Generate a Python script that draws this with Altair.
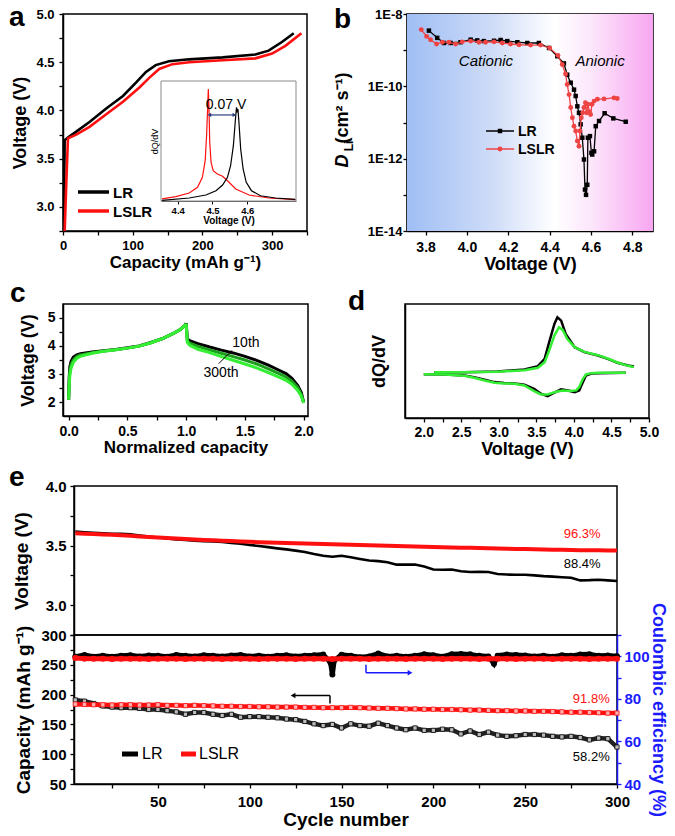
import altair as alt
import pandas as pd

FONT = "Liberation Sans"
RED = "#ff1010"
BRED = "#ee4444"
BLUE = "#1a1aff"
NAVY = "#2a3d7c"
GREEN = "#33ee33"
MIDGREEN = "#1b9e1b"

# ---------------- panel a : charge curves ----------------
A_LR_CAP = [1.0, 2.0, 2.4, 7, 19, 38, 62, 86, 105, 119, 133, 152, 181, 229, 276, 295, 314, 331]
A_LR_V = [2.75, 3.40, 3.69, 3.72, 3.78, 3.88, 4.02, 4.15, 4.29, 4.40, 4.47, 4.51, 4.53, 4.55, 4.58, 4.62, 4.71, 4.80]
A_LSLR_CAP = [2.4, 5.0, 7.1, 19, 38, 62, 86, 110, 124, 138, 157, 181, 229, 276, 300, 319, 342]
A_LSLR_V = [2.75, 3.30, 3.71, 3.75, 3.83, 3.96, 4.09, 4.24, 4.34, 4.43, 4.48, 4.50, 4.52, 4.54, 4.59, 4.67, 4.80]

# inset dQ/dV (arbitrary units 0..1)
IN_RED_V = [4.355, 4.395, 4.433, 4.457, 4.471, 4.479, 4.483, 4.486, 4.488, 4.490, 4.492, 4.496, 4.502, 4.514, 4.529, 4.543, 4.567, 4.605, 4.662, 4.738]
IN_RED_Y = [0.017, 0.036, 0.067, 0.114, 0.197, 0.336, 0.544, 0.767, 0.933, 0.767, 0.489, 0.322, 0.253, 0.225, 0.206, 0.169, 0.100, 0.050, 0.025, 0.011]
IN_BLK_V = [4.355, 4.433, 4.481, 4.510, 4.529, 4.543, 4.552, 4.560, 4.566, 4.569, 4.571, 4.573, 4.576, 4.581, 4.588, 4.597, 4.612, 4.638, 4.681, 4.738]
IN_BLK_Y = [0.006, 0.025, 0.050, 0.086, 0.133, 0.197, 0.294, 0.461, 0.683, 0.781, 0.739, 0.767, 0.656, 0.433, 0.267, 0.156, 0.086, 0.044, 0.025, 0.014]
IN_ARROW_V = [4.491, 4.563]
IN_ARROW_Y = 0.717
IN_TEXT = ("0.07 V", 4.539, 0.767)

# ---------------- panel b : diffusion coefficient ----------------
B_LR_V = [3.816, 3.856, 3.889, 3.921, 3.969, 4.018, 4.050, 4.082, 4.131, 4.163, 4.195, 4.244, 4.292, 4.348,
          4.397, 4.437, 4.469, 4.485, 4.502, 4.518, 4.526, 4.534, 4.542, 4.550, 4.558, 4.566, 4.571, 4.576,
          4.582, 4.585, 4.595, 4.602, 4.606, 4.615, 4.623, 4.639, 4.666, 4.708, 4.768]
B_LR_D = [3.47e-9, 2.19e-9, 1.58e-9, 1.58e-9, 1.66e-9, 1.95e-9, 1.86e-9, 1.78e-9, 1.82e-9, 1.91e-9, 1.78e-9,
          1.66e-9, 1.58e-9, 1.58e-9, 1.15e-9, 6.8e-10, 4.3e-10, 2.1e-10, 1.26e-10, 8.1e-11, 5.4e-11, 2.8e-11,
          1.86e-11, 8.9e-12, 3.8e-12, 9.5e-13, 1.4e-13, 1.0e-13, 1.9e-13, 3.8e-12, 4.2e-12, 1.45e-12, 1.3e-12,
          1.6e-12, 7.9e-12, 1.1e-11, 1.8e-11, 1.3e-11, 1.05e-11]
B_LSLR_V = [3.779, 3.805, 3.824, 3.853, 3.881, 3.913, 3.945, 3.977, 4.018, 4.058, 4.090, 4.131, 4.171, 4.211,
            4.252, 4.308, 4.356, 4.400, 4.440, 4.461, 4.477, 4.485, 4.494, 4.502, 4.510, 4.518, 4.526, 4.534,
            4.542, 4.547, 4.553, 4.560, 4.566, 4.573, 4.579, 4.585, 4.592, 4.598, 4.605, 4.615, 4.631, 4.663,
            4.711, 4.727]
B_LSLR_D = [3.7e-9, 2.4e-9, 1.95e-9, 1.48e-9, 1.66e-9, 1.66e-9, 1.48e-9, 1.7e-9, 1.78e-9, 1.66e-9, 1.66e-9,
            1.7e-9, 1.58e-9, 1.48e-9, 1.41e-9, 1.38e-9, 1.38e-9, 1.15e-9, 7.2e-10, 4.0e-10, 2.2e-10, 1.12e-10,
            5.9e-11, 2.6e-11, 1.35e-11, 7.9e-12, 5.8e-12, 3.1e-12, 2.2e-12, 5.8e-12, 1.35e-11, 1.86e-11, 2.6e-11,
            3.5e-11, 1.86e-11, 3.2e-11, 2.0e-11, 1.66e-11, 3.2e-11, 3.9e-11, 4.4e-11, 4.5e-11, 4.8e-11, 4.6e-11]
B_LABEL_T = ["Cationic", "Anionic"]
B_LABEL_V = [4.092, 4.644]
B_LABEL_D = [5.0e-10, 5.0e-10]

# ---------------- panel c : voltage profiles ----------------
C_CH_X = [0.0, 0.005, 0.01, 0.02, 0.04, 0.07, 0.1, 0.2, 0.3, 0.4, 0.5, 0.6, 0.7, 0.8, 0.9, 0.95, 0.99, 1.0]
C_CH_V10 = [2.1, 2.9, 3.25, 3.45, 3.6, 3.68, 3.72, 3.78, 3.83, 3.87, 3.93, 4.0, 4.12, 4.26, 4.46, 4.58, 4.72, 4.80]
C_CH_V150 = [2.1, 2.75, 3.1, 3.33, 3.5, 3.62, 3.68, 3.76, 3.82, 3.86, 3.92, 3.99, 4.11, 4.26, 4.46, 4.58, 4.72, 4.79]
C_CH_V300 = [2.1, 2.6, 2.95, 3.2, 3.42, 3.56, 3.63, 3.74, 3.81, 3.86, 3.92, 3.99, 4.11, 4.26, 4.46, 4.58, 4.72, 4.78]
C_DC_X = [1.0, 1.01, 1.03, 1.1, 1.2, 1.3, 1.4, 1.5, 1.6, 1.7, 1.8, 1.85, 1.9, 1.95, 1.98, 2.0]
C_DC_V10 = [4.80, 4.25, 4.18, 4.08, 3.96, 3.85, 3.75, 3.63, 3.49, 3.32, 3.12, 3.02, 2.85, 2.60, 2.35, 2.0]
C_DC_V150 = [4.79, 4.18, 4.10, 3.98, 3.86, 3.74, 3.62, 3.50, 3.36, 3.19, 3.00, 2.90, 2.75, 2.52, 2.28, 1.99]
C_DC_V300 = [4.78, 4.12, 4.02, 3.88, 3.76, 3.62, 3.49, 3.36, 3.22, 3.05, 2.88, 2.78, 2.64, 2.42, 2.22, 1.98]
C_NOTE_T = ["10th", "300th"]
C_NOTE_X = [1.509, 1.297]
C_NOTE_V = [4.11, 3.04]
C_POINTER_X = [1.277, 1.390]
C_POINTER_V = [3.37, 3.84]

# ---------------- panel d : dQ/dV ----------------
D_CH_V10 = [2.14, 2.54, 2.98, 3.34, 3.52, 3.61, 3.67, 3.74, 3.78, 3.83, 3.89, 4.01, 4.14, 4.32, 4.45, 4.58, 4.72, 4.80]
D_CH_Y10 = [5, 5, 7, 13, 23, 45, 95, 150, 170, 160, 120, 80, 65, 55, 45, 33, 25, 22]
D_CH_V300 = [2.14, 2.54, 2.98, 3.34, 3.52, 3.61, 3.67, 3.74, 3.80, 3.85, 3.91, 4.01, 4.14, 4.32, 4.45, 4.58, 4.72, 4.80]
D_CH_Y300 = [5, 5, 6, 11, 18, 35, 70, 115, 140, 132, 105, 80, 66, 56, 46, 34, 24, 20]
D_DC_V10 = [4.69, 4.32, 4.23, 4.16, 4.12, 4.07, 4.01, 3.92, 3.83, 3.74, 3.65, 3.56, 3.47, 3.34, 3.21, 3.07, 2.94, 2.81, 2.67, 2.54, 2.28, 2.0]
D_DC_Y10 = [3, 2, 1, -5, -25, -50, -55, -50, -47, -57, -67, -60, -45, -33, -29, -28, -25, -18, -10, -5, -2, -1]
D_DC_V300 = [4.69, 4.32, 4.23, 4.16, 4.12, 4.07, 4.03, 3.95, 3.85, 3.75, 3.65, 3.56, 3.47, 3.34, 3.21, 3.07, 2.94, 2.81, 2.67, 2.54, 2.28, 2.0]
D_DC_Y300 = [3, 3, 2, -2, -15, -40, -50, -52, -50, -55, -62, -62, -52, -35, -30, -29, -27, -20, -12, -6, -2, -1]

# ---------------- panel e : cycling ----------------
E_CYC = [5, 10, 15, 20, 25, 30, 35, 40, 45, 50, 55, 60, 65, 70, 75, 80, 85, 90, 95, 100,
         105, 110, 115, 120, 125, 130, 135, 140, 145, 150, 155, 160, 165, 170, 175, 180, 185, 190, 195, 200,
         205, 210, 215, 220, 225, 230, 235, 240, 245, 250, 255, 260, 265, 270, 275, 280, 285, 290, 295, 300]
E_LR_V = [3.617, 3.612, 3.607, 3.603, 3.600, 3.598, 3.595, 3.585, 3.575, 3.568,
          3.560, 3.552, 3.548, 3.542, 3.537, 3.534, 3.530, 3.522, 3.515, 3.505,
          3.497, 3.487, 3.477, 3.468, 3.458, 3.447, 3.430, 3.415, 3.407, 3.415,
          3.402, 3.388, 3.375, 3.370, 3.360, 3.340, 3.340, 3.342, 3.325, 3.300,
          3.298, 3.300, 3.285, 3.278, 3.280, 3.278, 3.262, 3.257, 3.255, 3.255,
          3.250, 3.244, 3.240, 3.235, 3.230, 3.208, 3.210, 3.214, 3.208, 3.203]
E_LSLR_V = [3.603, 3.600, 3.597, 3.594, 3.590, 3.586, 3.582, 3.577, 3.572, 3.568,
            3.564, 3.560, 3.556, 3.552, 3.548, 3.545, 3.541, 3.538, 3.535, 3.532,
            3.529, 3.526, 3.524, 3.521, 3.519, 3.517, 3.515, 3.513, 3.511, 3.509,
            3.507, 3.505, 3.503, 3.501, 3.499, 3.497, 3.495, 3.493, 3.491, 3.489,
            3.487, 3.485, 3.483, 3.481, 3.479, 3.478, 3.476, 3.474, 3.472, 3.471,
            3.469, 3.468, 3.466, 3.465, 3.463, 3.462, 3.461, 3.460, 3.459, 3.458]
E_LR_CAP = [191, 189, 185, 181, 179, 178, 178, 177, 175, 175,
            173, 171, 167, 170, 170, 167, 165, 167, 162, 163,
            163, 162, 161, 159, 158, 155, 151, 148, 150, 144,
            151, 148, 147, 152, 148, 144, 141, 144, 140, 140,
            142, 141, 134, 139, 133, 137, 132, 130, 131, 133,
            133, 132, 130, 129, 130, 128, 124, 127, 126, 112]
E_LSLR_CAP = [184, 183.5, 183, 183, 182.5, 183, 183, 182.5, 182.5, 183,
              182, 182, 181.5, 182, 181.5, 181, 180.5, 180.5, 180, 180,
              179.5, 179.5, 179, 179, 179, 178.5, 178.5, 178, 178, 178,
              178.5, 178, 177.5, 177, 177, 176.5, 176, 176, 175.5, 175.5,
              175, 175, 174.5, 174, 174, 173.5, 173, 173, 172.5, 172.5,
              172, 172, 171.5, 171, 170.5, 170.5, 170, 169.5, 169, 169]
E_CE_LR_CYC = [5, 10, 15, 20, 25, 30, 35, 40, 45, 50, 55, 60, 65, 70, 75, 80, 85, 90, 95, 100,
               105, 110, 115, 120, 125, 130, 135, 140, 144, 145, 146, 150, 155, 160, 165, 170, 175, 180,
               185, 190, 195, 200, 205, 210, 215, 220, 225, 230, 233, 235, 240, 245, 250, 255, 260, 265,
               270, 275, 280, 285, 290, 295, 300]
E_CE_LR = [99.8, 100.6, 99.8, 100.3, 99.8, 100.2, 100.5, 99.9, 100.4, 100.2, 99.8, 100.6, 100.2, 99.9,
           100.5, 100.3, 99.9, 100.4, 100.6, 99.9, 100.3, 99.8, 100.2, 100.5, 99.9, 100.3, 100.5, 100.8,
           97.0, 91.5, 98.0,
           100.7, 100.3, 99.6, 99.9, 101.3, 99.9, 100.3, 99.8, 100.2, 100.9, 100.5, 99.8, 101.0, 101.1,
           100.9, 100.2, 99.9, 96.5,
           100.3, 100.8, 100.6, 100.4, 99.9, 100.3, 99.8, 100.5, 100.2, 100.8, 100.9, 100.2, 100.4, 100.0]
E_CE_LSLR = [99.2, 98.9, 98.8, 98.9, 98.7, 98.8, 98.9, 98.8, 98.7, 98.9,
             98.8, 98.9, 98.7, 98.8, 98.9, 98.8, 98.7, 98.8, 98.9, 98.8,
             98.7, 98.8, 98.9, 98.8, 98.7, 98.8, 98.9, 98.8, 98.7, 98.8,
             98.9, 98.8, 98.7, 98.8, 98.9, 98.8, 98.7, 98.8, 98.9, 98.8,
             98.7, 98.8, 98.9, 98.8, 98.7, 98.8, 98.9, 98.8, 98.7, 98.8,
             98.9, 98.8, 98.7, 98.8, 98.9, 98.8, 98.7, 98.8, 98.9, 98.8]
E_TOP_NOTE_T = ["96.3%", "88.4%"]
E_TOP_NOTE_X = [281, 281]
E_TOP_NOTE_V = [3.60, 3.342]
E_BOT_NOTE_T = ["91.8%", "58.2%"]
E_BOT_NOTE_X = [286, 286]
E_BOT_NOTE_C = [193, 95]
E_BOT_NOTE_COL = [RED, "black"]
# arrows (cycle, capacity)
E_BLACK_ARROW = {"x": [123.6, 143.7], "x2": [143.7, 143.7], "y": [198.3, 198.3], "y2": [198.3, 185.0]}
E_BLUE_ARROW = {"x": [163.3, 163.3], "x2": [163.3, 187.3], "y": [250.0, 236.7], "y2": [236.7, 236.7]}

ONE = pd.DataFrame({"k": [0]})


def axis(**kw):
    d = dict(labelFont=FONT, titleFont=FONT, labelFontWeight="bold", titleFontWeight="bold",
             labelColor="black", titleColor="black", domainColor="black", tickColor="black",
             grid=False, labelFlush=False, labelOverlap=False, domainWidth=1.5, tickWidth=1.3,
             tickSize=4)
    d.update(kw)
    return alt.Axis(**d)


def only_major(step):
    return f"abs(datum.value/{step} - round(datum.value/{step})) < 1e-6 ? datum.label : ''"


def letter(ch, x, y):
    return alt.Chart(ONE).mark_text(text=ch, font=FONT, fontSize=28, fontWeight="bold", align="left",
                                    baseline="alphabetic", color="black").encode(x=alt.value(x), y=alt.value(y))


def ptext(t, x, y, size=14, weight="bold", color="black", align="left", baseline="middle", angle=None, style="normal"):
    kw = dict(text=t, font=FONT, fontSize=size, fontWeight=weight, color=color, align=align,
              baseline=baseline, fontStyle=style)
    if angle is not None:
        kw["angle"] = angle
    return alt.Chart(ONE).mark_text(**kw).encode(x=alt.value(x), y=alt.value(y))


def prule(x1, x2, y1, y2, color, width):
    return alt.Chart(ONE).mark_rule(color=color, strokeWidth=width).encode(
        x=alt.value(x1), x2=alt.value(x2), y=alt.value(y1), y2=alt.value(y2))


def df_xy(xs, ys):
    return pd.DataFrame({"x": xs, "y": ys, "i": list(range(len(xs)))})


# ======================= panel a =======================
A_W, A_H = 244, 217
ax_a_x = axis(values=list(range(0, 351, 50)), labelExpr=only_major(100), title="Capacity (mAh g⁻¹)",
              labelFontSize=13, titleFontSize=17, labelPadding=4, titlePadding=2, minExtent=21, maxExtent=21)
ax_a_y = axis(values=[2.75, 3.0, 3.25, 3.5, 3.75, 4.0, 4.25, 4.5, 4.75, 5.0], labelExpr=only_major(0.5),
              format=".1f", title="Voltage (V)", labelFontSize=13, titleFontSize=18, labelPadding=5,
              titlePadding=6, minExtent=28, maxExtent=28)
a_x = alt.X("x:Q", scale=alt.Scale(domain=[0, 350], nice=False), axis=ax_a_x)
a_y = alt.Y("y:Q", scale=alt.Scale(domain=[2.75, 5.0], nice=False), axis=ax_a_y)

a_lr = alt.Chart(df_xy(A_LR_CAP, A_LR_V)).mark_line(color="black", strokeWidth=2.6, clip=True).encode(x=a_x, y=a_y, order="i:Q")
a_lslr = alt.Chart(df_xy(A_LSLR_CAP, A_LSLR_V)).mark_line(color=RED, strokeWidth=2.6, clip=True).encode(x=a_x, y=a_y, order="i:Q")
a_main = alt.layer(
    a_lr, a_lslr,
    prule(15, 46, 178, 178, "black", 3.5), ptext("LR", 50, 179, size=15),
    prule(15, 46, 197, 197, RED, 3.5), ptext("LSLR", 50, 198, size=15),
    letter("a", -54, 12),
)

in_x = alt.X("x:Q", scale=alt.Scale(domain=[4.352, 4.74], range=[98, 233], nice=False),
             axis=axis(orient="bottom", offset=-30, values=[4.4, 4.5, 4.6], format=".1f", title="Voltage (V)",
                       labelFontSize=9.5, titleFontSize=10, labelPadding=1, titlePadding=1, tickSize=3,
                       tickWidth=1, domainWidth=1, domainColor="#555"))
in_y = alt.Y("y:Q", scale=alt.Scale(domain=[0, 1], range=[187, 67], nice=False),
             axis=axis(orient="left", offset=-98, labels=False, ticks=False, domain=False, title="dQ/dV",
                       titleFontSize=9, titlePadding=2, titleFontWeight="normal"))
in_frame = alt.Chart(ONE).mark_rect(fill="white", stroke="#8a8a8a", strokeWidth=1).encode(
    x=alt.value(98), x2=alt.value(233), y=alt.value(67), y2=alt.value(187))
in_red = alt.Chart(df_xy(IN_RED_V, IN_RED_Y)).mark_line(color=RED, strokeWidth=1.2).encode(x=in_x, y=in_y, order="i:Q")
in_blk = alt.Chart(df_xy(IN_BLK_V, IN_BLK_Y)).mark_line(color="black", strokeWidth=1.2).encode(x=in_x, y=in_y, order="i:Q")
arrow_df = pd.DataFrame({"x": [IN_ARROW_V[0]], "x2": [IN_ARROW_V[1]], "y": [IN_ARROW_Y]})
in_arrow = alt.Chart(arrow_df).mark_rule(color=NAVY, strokeWidth=1.2).encode(x=in_x, x2="x2:Q", y=in_y)
heads_df = pd.DataFrame({"x": IN_ARROW_V, "y": [IN_ARROW_Y] * 2, "s": ["triangle-left", "triangle-right"]})
in_heads = alt.Chart(heads_df).mark_point(filled=True, color=NAVY, size=18, opacity=1).encode(
    x=in_x, y=in_y, shape=alt.Shape("s:N", scale=None))
in_text = alt.Chart(pd.DataFrame({"x": [IN_TEXT[1]], "y": [IN_TEXT[2]], "t": [IN_TEXT[0]]})).mark_text(
    font=FONT, fontSize=14, color="black", baseline="alphabetic", align="center").encode(x=in_x, y=in_y, text="t:N")
a_inset = alt.layer(in_frame, in_red, in_blk, in_arrow, in_heads, in_text)

panel_a = alt.layer(a_main, a_inset).resolve_scale(x="independent", y="independent").properties(width=A_W, height=A_H)

# ======================= panel b =======================
B_W, B_H = 246, 217
ax_b_x = axis(values=[3.8, 4.0, 4.2, 4.4, 4.6, 4.8], format=".1f", title="Voltage (V)", labelFontSize=14,
              titleFontSize=18, labelPadding=5, titlePadding=2, minExtent=22, maxExtent=22)
ax_b_y = axis(values=[1e-14, 1e-13, 1e-12, 1e-11, 1e-10, 1e-9, 1e-8],
              labelExpr="(round(log(datum.value)/LN10) % 2 == 0) ? '1E' + round(log(datum.value)/LN10) : ''",
              title=None, labelFontSize=13, labelPadding=1)
b_x = alt.X("x:Q", scale=alt.Scale(domain=[3.71, 4.9], nice=False), axis=ax_b_x)
b_y = alt.Y("y:Q", scale=alt.Scale(type="log", domain=[1e-14, 1e-8], nice=False), axis=ax_b_y)

grad = {"gradient": "linear", "x1": 0, "y1": 0, "x2": 1, "y2": 0,
        "stops": [{"offset": 0, "color": "#9fbef4"}, {"offset": 0.35, "color": "#cfdcf8"},
                  {"offset": 0.6, "color": "#ffffff"}, {"offset": 0.75, "color": "#fce6fb"},
                  {"offset": 1, "color": "#f8a6f1"}]}
b_bg = alt.Chart(ONE).mark_rect(fill=grad).encode(x=alt.value(0), x2=alt.value(B_W), y=alt.value(0), y2=alt.value(B_H))
b_lr_df = df_xy(B_LR_V, B_LR_D)
b_lslr_df = df_xy(B_LSLR_V, B_LSLR_D)
b_lr_line = alt.Chart(b_lr_df).mark_line(color="black", strokeWidth=1.3).encode(x=b_x, y=b_y, order="i:Q")
b_lr_pts = alt.Chart(b_lr_df).mark_point(shape="square", filled=True, color="black", size=20, opacity=1).encode(x=b_x, y=b_y)
b_lslr_line = alt.Chart(b_lslr_df).mark_line(color=BRED, strokeWidth=1.3).encode(x=b_x, y=b_y, order="i:Q")
b_lslr_pts = alt.Chart(b_lslr_df).mark_point(shape="circle", filled=True, color=BRED, size=24, opacity=1).encode(x=b_x, y=b_y)
b_labels = alt.Chart(pd.DataFrame({"x": B_LABEL_V, "y": B_LABEL_D, "t": B_LABEL_T})).mark_text(
    font=FONT, fontSize=15, fontStyle="italic", color="black").encode(x=b_x, y=b_y, text="t:N")
panel_b = alt.layer(
    b_bg, b_lr_line, b_lr_pts, b_lslr_line, b_lslr_pts, b_labels,
    prule(79, 107, 117, 117, "black", 1.5),
    alt.Chart(ONE).mark_point(shape="square", filled=True, color="black", size=20, opacity=1).encode(x=alt.value(93), y=alt.value(117)),
    ptext("LR", 111, 118, size=14),
    prule(79, 107, 135, 135, BRED, 1.5),
    alt.Chart(ONE).mark_point(shape="circle", filled=True, color=BRED, size=24, opacity=1).encode(x=alt.value(93), y=alt.value(135)),
    ptext("LSLR", 111, 136, size=14),
    ptext("D", -64, 147, size=18, align="center", angle=270, style="italic"),
    ptext("Li", -58, 132, size=12, align="center", angle=270),
    ptext("(cm² s⁻¹)", -64, 94, size=18, align="center", angle=270),
    letter("b", -73, 14),
).properties(width=B_W, height=B_H)

# ======================= panel c =======================
C_W, C_H = 245, 112
ax_c_x = axis(values=[0, 0.25, 0.5, 0.75, 1.0, 1.25, 1.5, 1.75, 2.0], labelExpr=only_major(0.5), format=".1f",
              title="Normalized capacity", labelFontSize=14, titleFontSize=17, labelPadding=4, titlePadding=2,
              minExtent=21, maxExtent=21)
ax_c_y = axis(values=[2, 2.5, 3, 3.5, 4, 4.5, 5], labelExpr=only_major(1), format=".0f", title="Voltage (V)",
              labelFontSize=14, titleFontSize=18, labelPadding=4, titlePadding=10, minExtent=16, maxExtent=16)
c_x = alt.X("x:Q", scale=alt.Scale(domain=[-0.048, 2.037], nice=False), axis=ax_c_x)
c_y = alt.Y("y:Q", scale=alt.Scale(domain=[1.52, 5.48], nice=False), axis=ax_c_y)


def c_line(xs, ys, col):
    return alt.Chart(df_xy(xs, ys)).mark_line(color=col, strokeWidth=3).encode(x=c_x, y=c_y, order="i:Q")


c_notes = alt.Chart(pd.DataFrame({"x": C_NOTE_X, "y": C_NOTE_V, "t": C_NOTE_T})).mark_text(
    font=FONT, fontSize=14, color="black").encode(x=c_x, y=c_y, text="t:N")
c_ptr = alt.Chart(pd.DataFrame({"x": [C_POINTER_X[0]], "x2": [C_POINTER_X[1]], "y": [C_POINTER_V[0]], "y2": [C_POINTER_V[1]]})).mark_rule(
    color="black", strokeWidth=1).encode(x=c_x, x2="x2:Q", y=c_y, y2="y2:Q")
panel_c = alt.layer(
    c_line(C_CH_X, C_CH_V10, "black"), c_line(C_DC_X, C_DC_V10, "black"),
    c_line(C_CH_X, C_CH_V150, MIDGREEN), c_line(C_DC_X, C_DC_V150, MIDGREEN),
    c_line(C_CH_X, C_CH_V300, GREEN), c_line(C_DC_X, C_DC_V300, GREEN),
    c_notes, c_ptr,
    letter("c", -53, -2),
).properties(width=C_W, height=C_H)

# ======================= panel d =======================
D_W, D_H = 244, 114
ax_d_x = axis(values=[2.0, 2.25, 2.5, 2.75, 3.0, 3.25, 3.5, 3.75, 4.0, 4.25, 4.5, 4.75, 5.0], labelExpr=only_major(0.5),
              format=".1f", title="Voltage (V)", labelFontSize=14, titleFontSize=18, labelPadding=3, titlePadding=3,
              minExtent=19, maxExtent=19)
ax_d_y = axis(labels=False, ticks=False, title="dQ/dV", titleFontSize=18, titlePadding=17, minExtent=0, maxExtent=0)
d_x = alt.X("x:Q", scale=alt.Scale(domain=[1.75, 5.0], nice=False), axis=ax_d_x)
d_y = alt.Y("y:Q", scale=alt.Scale(domain=[-133, 210], nice=False), axis=ax_d_y)


def d_line(xs, ys, col):
    return alt.Chart(df_xy(xs, ys)).mark_line(color=col, strokeWidth=2.5).encode(x=d_x, y=d_y, order="i:Q")


panel_d = alt.layer(
    d_line(D_CH_V10, D_CH_Y10, "black"), d_line(D_DC_V10, D_DC_Y10, "black"),
    d_line(D_CH_V300, D_CH_Y300, GREEN), d_line(D_DC_V300, D_DC_Y300, GREEN),
    letter("d", -57, 6),
).properties(width=D_W, height=D_H)

# ======================= panel e =======================
E_W, E_H = 543, 149
e_xscale = alt.Scale(domain=[4.3, 300], nice=False)
ax_e_y1 = axis(values=[2.75, 3.0, 3.25, 3.5, 3.75, 4.0], labelExpr=only_major(0.5), format=".1f", title="Voltage (V)",
               labelFontSize=15, titleFontSize=19, labelPadding=4, titlePadding=13, minExtent=30, maxExtent=30)
e1_x = alt.X("x:Q", scale=e_xscale, axis=None)
e1_y = alt.Y("y:Q", scale=alt.Scale(domain=[2.75, 4.0], nice=False), axis=ax_e_y1)
e_top_notes = alt.Chart(pd.DataFrame({"x": E_TOP_NOTE_X, "y": E_TOP_NOTE_V, "t": E_TOP_NOTE_T, "c": [RED, "black"]})).mark_text(
    font=FONT, fontSize=13).encode(x=e1_x, y=e1_y, text="t:N", color=alt.Color("c:N", scale=None))
e_top = alt.layer(
    alt.Chart(df_xy(E_CYC, E_LR_V)).mark_line(color="black", strokeWidth=2.6).encode(x=e1_x, y=e1_y, order="i:Q"),
    alt.Chart(df_xy(E_CYC, E_LSLR_V)).mark_line(color=RED, strokeWidth=4).encode(x=e1_x, y=e1_y, order="i:Q"),
    e_top_notes,
    letter("e", -65, 0),
).properties(width=E_W, height=E_H)

ax_e_x = axis(values=list(range(25, 301, 25)), labelExpr="datum.value % 50 == 0 ? datum.label : ''", title="Cycle number",
              labelFontSize=15, titleFontSize=19, labelPadding=6, titlePadding=2, minExtent=24, maxExtent=24)
ax_e_cap = axis(values=list(range(50, 301, 25)), labelExpr="datum.value % 50 == 0 ? datum.label : ''",
                title="Capacity (mAh g⁻¹)", labelFontSize=15, titleFontSize=19, labelPadding=4, titlePadding=8,
                minExtent=33, maxExtent=33)
ax_e_ce = axis(orient="right", values=list(range(40, 111, 10)), labelExpr="datum.value % 20 == 0 ? datum.label : ''",
               title="Coulombic efficiency (%)", labelColor=BLUE, titleColor=BLUE, domainColor=BLUE, tickColor=BLUE,
               labelFontSize=15, titleFontSize=18, labelPadding=3, titlePadding=3, minExtent=28, maxExtent=28)
e2_x = alt.X("x:Q", scale=e_xscale, axis=ax_e_x)
e2_y = alt.Y("y:Q", scale=alt.Scale(domain=[50, 300], nice=False), axis=ax_e_cap)
e2_ce = alt.Y("y:Q", scale=alt.Scale(domain=[40, 110], nice=False), axis=ax_e_ce)

lr_cap_df = df_xy(E_CYC, E_LR_CAP)
lslr_cap_df = df_xy(E_CYC, E_LSLR_CAP)
blk_arrow_df = pd.DataFrame(E_BLACK_ARROW)
blu_arrow_df = pd.DataFrame(E_BLUE_ARROW)
cap_group = alt.layer(
    alt.Chart(lr_cap_df).mark_line(color="#222", strokeWidth=4.5).encode(x=e2_x, y=e2_y, order="i:Q"),
    alt.Chart(lr_cap_df).mark_point(shape="square", filled=True, fill="#bbbbbb", stroke="black", strokeWidth=0.8, size=18, opacity=1).encode(x=e2_x, y=e2_y),
    alt.Chart(lslr_cap_df).mark_line(color=RED, strokeWidth=4.5).encode(x=e2_x, y=e2_y, order="i:Q"),
    alt.Chart(lslr_cap_df).mark_point(shape="square", filled=True, fill="#ffb0b0", stroke=RED, strokeWidth=0.8, size=18, opacity=1).encode(x=e2_x, y=e2_y),
    alt.Chart(blk_arrow_df).mark_rule(color="black", strokeWidth=1.5).encode(x=e2_x, x2="x2:Q", y=e2_y, y2="y2:Q"),
    alt.Chart(pd.DataFrame({"x": [E_BLACK_ARROW["x"][0]], "y": [E_BLACK_ARROW["y"][0]]})).mark_point(
        shape="triangle-left", filled=True, color="black", size=30, opacity=1).encode(x=e2_x, y=e2_y),
    alt.Chart(blu_arrow_df).mark_rule(color=BLUE, strokeWidth=1.5).encode(x=e2_x, x2="x2:Q", y=e2_y, y2="y2:Q"),
    alt.Chart(pd.DataFrame({"x": [E_BLUE_ARROW["x2"][1]], "y": [E_BLUE_ARROW["y2"][1]]})).mark_point(
        shape="triangle-right", filled=True, color=BLUE, size=30, opacity=1).encode(x=e2_x, y=e2_y),
    alt.Chart(pd.DataFrame({"x": E_BOT_NOTE_X, "y": E_BOT_NOTE_C, "t": E_BOT_NOTE_T, "c": E_BOT_NOTE_COL})).mark_text(
        font=FONT, fontSize=13).encode(x=e2_x, y=e2_y, text="t:N", color=alt.Color("c:N", scale=None)),
    prule(48, 64, 119, 119, "black", 5), ptext("LR", 68, 119, size=16, weight="normal"),
    prule(107, 122, 119, 119, RED, 5), ptext("LSLR", 125, 119, size=16, weight="normal"),
)
lr_ce_df = df_xy(E_CE_LR_CYC, E_CE_LR)
lslr_ce_df = df_xy(E_CYC, E_CE_LSLR)
ce_group = alt.layer(
    alt.Chart(lr_ce_df).mark_line(color="black", strokeWidth=5).encode(x=e2_x, y=e2_ce, order="i:Q"),
    alt.Chart(lr_ce_df).mark_point(shape="circle", filled=True, color="black", size=36, opacity=1).encode(x=e2_x, y=e2_ce),
    alt.Chart(lslr_ce_df).mark_line(color=RED, strokeWidth=5).encode(x=e2_x, y=e2_ce, order="i:Q"),
    alt.Chart(lslr_ce_df).mark_point(shape="circle", filled=True, color=RED, size=36, opacity=1).encode(x=e2_x, y=e2_ce),
)
e_bot = alt.layer(cap_group, ce_group).resolve_scale(y="independent").properties(width=E_W, height=E_H)

e_block = alt.vconcat(e_top, e_bot, spacing=0, bounds="flush")
spacer = alt.Chart(ONE).mark_point(opacity=0).encode(x=alt.value(0), y=alt.value(0)).properties(
    width=1, height=1, view=alt.ViewBackground(stroke="transparent"))

row1 = alt.hconcat(panel_a, panel_b, spacing=100, bounds="flush")
row2 = alt.hconcat(panel_c, panel_d, spacing=97, bounds="flush")
row3 = alt.hconcat(spacer, e_block, spacing=10, bounds="flush")

top_rows = alt.vconcat(row1, row2, spacing=5)
chart = alt.vconcat(top_rows, row3, spacing=4).properties(
    padding={"left": 0, "top": -5, "right": 0, "bottom": 0}
).configure_view(stroke="black", strokeWidth=1.5)

chart.save("out.html", embed_options={"renderer": "svg", "actions": False})
